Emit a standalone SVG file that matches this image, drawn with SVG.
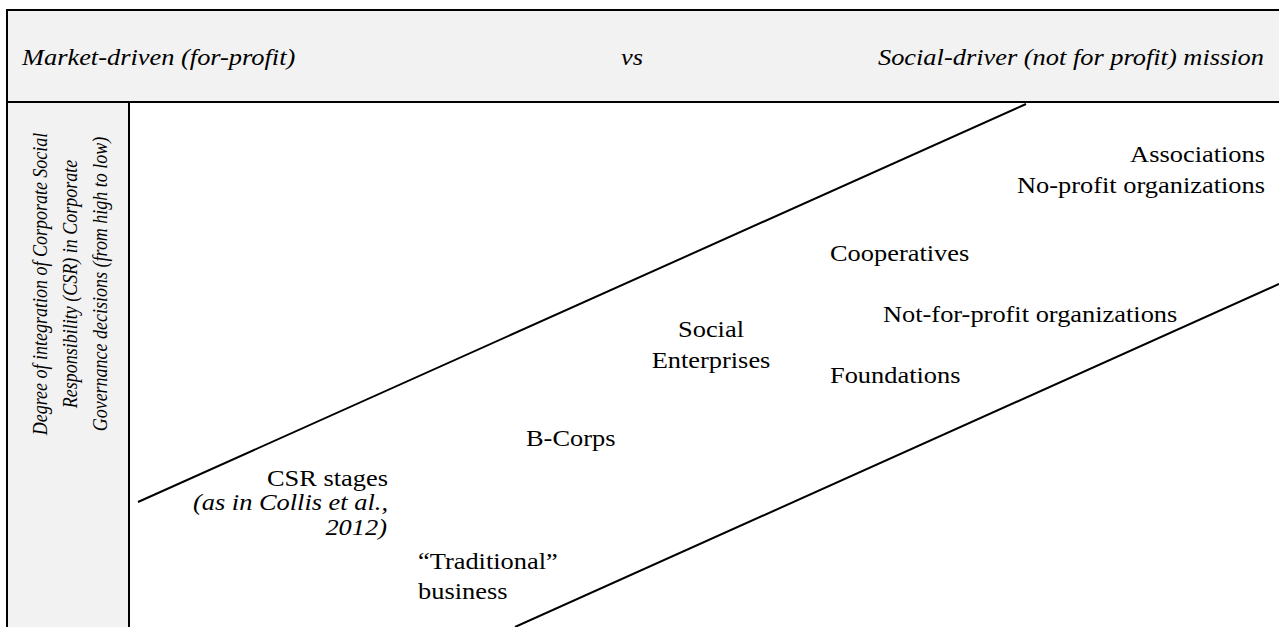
<svg xmlns="http://www.w3.org/2000/svg" width="1279" height="627" viewBox="0 0 1279 627">
<style>
text{font-family:'Liberation Serif','Times New Roman','DejaVu Serif',serif;fill:#000}
.t{font-size:24px}
.i{font-style:italic}
.v{font-size:18px;font-style:italic}
.b{stroke:#000;stroke-width:2;fill:none}
.d{stroke:#000;stroke-width:2;fill:none}
</style>
<rect x="7" y="10" width="1272" height="92" fill="#f2f2f2"/>
<rect x="7" y="102" width="122" height="525" fill="#f2f2f2"/>
<rect x="129" y="102" width="1150" height="525" fill="#fff"/>
<g id="frame">
<line class="b" x1="6" y1="10" x2="1279" y2="10"/>
<line class="b" x1="7" y1="10" x2="7" y2="627"/>
<line class="b" x1="7" y1="102" x2="1279" y2="102"/>
<line class="b" x1="129" y1="102" x2="129" y2="627"/>
</g>
<g id="header">
<text class="t i" transform="translate(22,65) scale(1.1,1)">Market-driven (for-profit)</text>
<text class="t i" transform="translate(621,65) scale(1.1,1)">vs</text>
<text class="t i" text-anchor="end" transform="translate(1264,65) scale(1.1,1)">Social-driver (not for profit) mission</text>
</g>
<g id="axis-label">
<text class="v" text-anchor="middle" transform="translate(47,284) scale(1.2,1) rotate(-90)">Degree of integration of Corporate Social</text>
<text class="v" text-anchor="middle" transform="translate(77,284) scale(1.2,1) rotate(-90)">Responsibility (CSR) in Corporate</text>
<text class="v" text-anchor="middle" transform="translate(107,284) scale(1.2,1) rotate(-90)">Governance decisions (from high to low)</text>
</g>
<g id="connectors">
<line class="d" x1="138" y1="502" x2="1026" y2="104"/>
<line class="d" x1="515" y1="627" x2="1279" y2="284"/>
</g>
<g id="associations">
<text class="t" text-anchor="end" transform="translate(1265,162) scale(1.1,1)">Associations</text>
<text class="t" text-anchor="end" transform="translate(1265,193) scale(1.1,1)">No-profit organizations</text>
</g>
<g id="cooperatives">
<text class="t" transform="translate(830,261) scale(1.1,1)">Cooperatives</text>
</g>
<g id="not-for-profit">
<text class="t" transform="translate(883,322) scale(1.1,1)">Not-for-profit organizations</text>
</g>
<g id="social-enterprises">
<text class="t" text-anchor="middle" transform="translate(711,337) scale(1.1,1)">Social</text>
<text class="t" text-anchor="middle" transform="translate(711,368) scale(1.1,1)">Enterprises</text>
</g>
<g id="foundations">
<text class="t" transform="translate(830,383) scale(1.1,1)">Foundations</text>
</g>
<g id="b-corps">
<text class="t" transform="translate(526,446) scale(1.1,1)">B-Corps</text>
</g>
<g id="csr-stages">
<text class="t" text-anchor="end" transform="translate(388,486) scale(1.1,1)">CSR stages</text>
<text class="t i" text-anchor="end" transform="translate(388,510) scale(1.1,1)">(as in Collis et al.,</text>
<text class="t i" text-anchor="end" transform="translate(387,535) scale(1.1,1)">2012)</text>
</g>
<g id="traditional">
<text class="t" transform="translate(418,569) scale(1.1,1)">“Traditional”</text>
<text class="t" transform="translate(418,599) scale(1.1,1)">business</text>
</g>
</svg>
